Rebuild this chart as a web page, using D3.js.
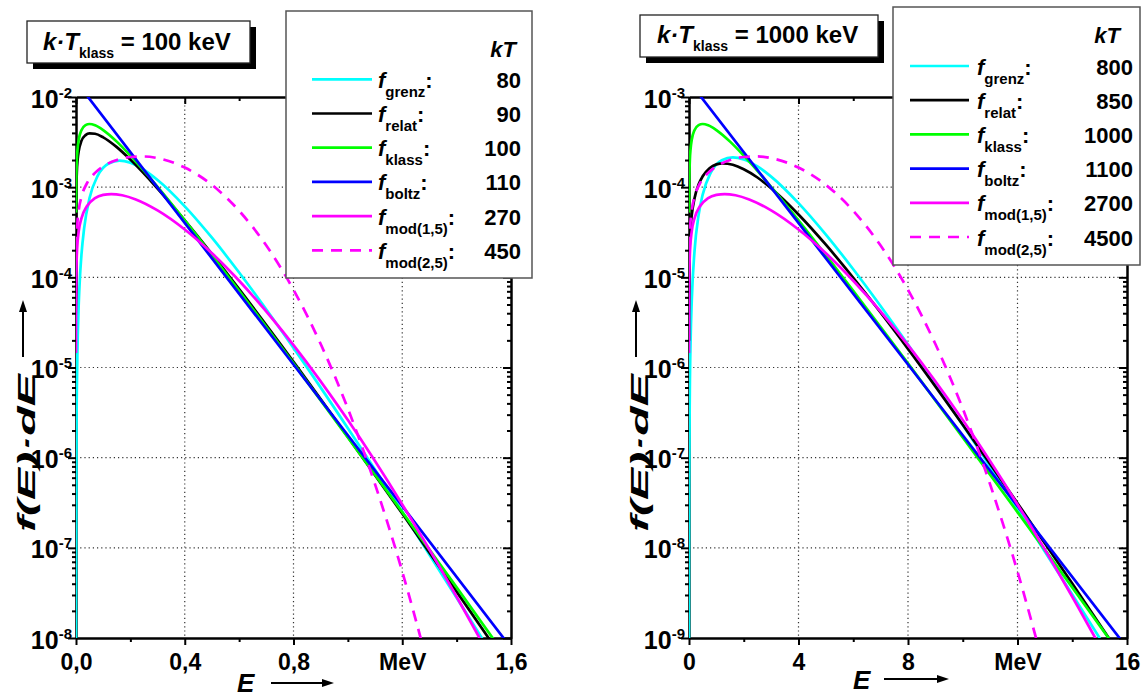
<!DOCTYPE html>
<html>
<head>
<meta charset="utf-8">
<script src="https://cdn.jsdelivr.net/npm/d3@7"></script>
<style>
body{margin:0;background:#fff}
svg{display:block}
text{font-family:Arial,"Liberation Sans",sans-serif;font-weight:bold;fill:#000;white-space:pre}
.grid{stroke:#333;stroke-width:1.2;stroke-dasharray:1.2,3}
.axis path,.axis line{stroke:#000;stroke-width:2}
</style>
</head>
<body>
<svg id="chart" width="1146" height="697"></svg>
<script>
// series names, kT values (keV) of the legends
var seriesKeys = ["grenz", "relat", "klass", "boltz", "mod(1,5)", "mod(2,5)"];
var leftKT = [80, 90, 100, 110, 270, 450];
var rightKT = [800, 850, 1000, 1100, 2700, 4500];
var leftTitle = "100 keV", rightTitle = "1000 keV";

// axis ticks
var leftXTicks = [0, 0.4, 0.8, 1.2, 1.6],
	leftXLabels = ["0,0", "0,4", "0,8", "MeV", "1,6"],
	leftXMinor = [0.2, 0.6, 1.0, 1.4],
	leftDecades = [-8, -7, -6, -5, -4, -3, -2];
var rightXTicks = [0, 4, 8, 12, 16],
	rightXLabels = ["0", "4", "8", "MeV", "16"],
	rightXMinor = [2, 6, 10, 14],
	rightDecades = [-9, -8, -7, -6, -5, -4, -3];

// [E (MeV), f(E)dE]
var leftGrenz = [[0.00012,8.2e-9],[0.0002,2.28e-8],[0.002,2.22e-6],[0.004,8.66e-6],[0.007,2.55e-5],[0.01,5.02e-5],[0.015,1.06e-4],[0.02,1.77e-4],[0.03,3.52e-4],[0.05,7.61e-4],[0.08,1.34e-3],[0.12,1.83e-3],[0.16,1.97e-3],[0.2,1.87e-3],[0.3,1.20e-3],[0.4,6.13e-4],[0.5,2.75e-4],[0.6,1.13e-4],[0.8,1.65e-5],[1.0,2.12e-6],[1.2,2.51e-7],[1.4,2.80e-8],[1.52,7.4e-9]];
var leftRelat = [[0.0002,3.87e-4],[0.001,8.59e-4],[0.003,1.46e-3],[0.006,2.02e-3],[0.01,2.51e-3],[0.02,3.26e-3],[0.035,3.78e-3],[0.05,3.95e-3],[0.07,3.91e-3],[0.1,3.57e-3],[0.15,2.78e-3],[0.2,2.02e-3],[0.3,9.66e-4],[0.4,4.28e-4],[0.5,1.81e-4],[0.6,7.40e-5],[0.8,1.16e-5],[1.0,1.70e-6],[1.2,2.40e-7],[1.4,3.27e-8],[1.55,7.2e-9]];
var leftKlass = [[0.0002,5.22e-4],[0.001,1.16e-3],[0.003,1.97e-3],[0.006,2.70e-3],[0.01,3.35e-3],[0.02,4.28e-3],[0.035,4.88e-3],[0.05,5.02e-3],[0.07,4.86e-3],[0.1,4.30e-3],[0.15,3.20e-3],[0.2,2.24e-3],[0.3,1.01e-3],[0.4,4.29e-4],[0.5,1.76e-4],[0.6,7.10e-5],[0.8,1.11e-5],[1.0,1.68e-6],[1.2,2.49e-7],[1.4,3.64e-8],[1.54,9.3e-9]];
var leftBoltz = [[0,1.49e-2],[0.8,1.08e-5],[1.6,7.8e-9]];
var leftMod15 = [[0.00002,1.45e-5],[0.0002,4.60e-5],[0.001,1.03e-4],[0.004,2.05e-4],[0.01,3.23e-4],[0.02,4.51e-4],[0.04,6.14e-4],[0.07,7.54e-4],[0.1,8.20e-4],[0.13,8.39e-4],[0.17,8.13e-4],[0.22,7.31e-4],[0.3,5.52e-4],[0.4,3.39e-4],[0.5,1.85e-4],[0.6,9.17e-5],[0.8,1.77e-5],[1.0,2.61e-6],[1.2,3.03e-7],[1.4,2.87e-8],[1.5,8.2e-9]];
var leftMod25 = [[0.0015,2.13e-4],[0.004,3.48e-4],[0.01,5.50e-4],[0.02,7.78e-4],[0.04,1.10e-3],[0.07,1.44e-3],[0.1,1.70e-3],[0.15,2.00e-3],[0.2,2.16e-3],[0.25,2.19e-3],[0.3,2.10e-3],[0.4,1.65e-3],[0.5,1.06e-3],[0.6,5.47e-4],[0.7,2.25e-4],[0.8,7.28e-5],[0.9,1.82e-5],[1.0,3.50e-6],[1.1,5.06e-7],[1.2,5.45e-8],[1.3,4.3e-9]];

// [E (MeV), f(E)dE]
var rightGrenz = [[0.001,6.2e-10],[0.003,5.54e-9],[0.01,6.10e-8],[0.03,5.36e-7],[0.06,2.06e-6],[0.1,5.45e-6],[0.2,1.93e-5],[0.35,4.89e-5],[0.5,8.27e-5],[0.8,1.46e-4],[1.2,1.99e-4],[1.6,2.14e-4],[2.0,2.03e-4],[2.5,1.70e-4],[3.0,1.31e-4],[4.0,6.66e-5],[5.0,2.98e-5],[6.0,1.23e-5],[8.0,1.80e-6],[10,2.30e-7],[12,2.72e-8],[14,3.04e-9],[15.2,8.0e-10]];
var rightRelat = [[0.0002,1.98e-6],[0.002,6.25e-6],[0.01,1.41e-5],[0.03,2.50e-5],[0.06,3.66e-5],[0.1,4.91e-5],[0.2,7.50e-5],[0.35,1.07e-4],[0.5,1.32e-4],[0.75,1.62e-4],[1.0,1.79e-4],[1.25,1.84e-4],[1.6,1.77e-4],[2.0,1.58e-4],[2.5,1.28e-4],[3.0,9.71e-5],[4.0,4.98e-5],[5.0,2.30e-5],[6.0,9.90e-6],[8.0,1.61e-6],[10,2.32e-7],[12,3.13e-8],[14,4.02e-9],[15.5,8.4e-10]];
var rightKlass = [[0.002,5.22e-5],[0.01,1.16e-4],[0.03,1.97e-4],[0.06,2.70e-4],[0.1,3.35e-4],[0.2,4.28e-4],[0.35,4.88e-4],[0.5,5.02e-4],[0.7,4.86e-4],[1.0,4.30e-4],[1.5,3.20e-4],[2.0,2.24e-4],[3.0,1.01e-4],[4.0,4.29e-5],[5.0,1.76e-5],[6.0,7.10e-6],[8.0,1.11e-6],[10,1.68e-7],[12,2.49e-8],[14,3.64e-9],[15.4,9.3e-10]];
var rightBoltz = [[0,1.49e-3],[8,1.08e-6],[16,7.8e-10]];
var rightMod15 = [[0.0002,1.45e-6],[0.002,4.60e-6],[0.01,1.03e-5],[0.04,2.05e-5],[0.1,3.23e-5],[0.2,4.51e-5],[0.4,6.14e-5],[0.7,7.54e-5],[1.0,8.20e-5],[1.3,8.39e-5],[1.7,8.13e-5],[2.2,7.31e-5],[3.0,5.52e-5],[4.0,3.39e-5],[5.0,1.85e-5],[6.0,9.17e-6],[8.0,1.77e-6],[10,2.61e-7],[12,3.03e-8],[14,2.87e-9],[15,8.2e-10]];
var rightMod25 = [[0.015,2.13e-5],[0.04,3.48e-5],[0.1,5.50e-5],[0.2,7.78e-5],[0.4,1.10e-4],[0.7,1.44e-4],[1.0,1.70e-4],[1.5,2.00e-4],[2.0,2.16e-4],[2.5,2.19e-4],[3.0,2.10e-4],[4.0,1.65e-4],[5.0,1.06e-4],[6.0,5.47e-5],[7.0,2.25e-5],[8.0,7.28e-6],[9.0,1.82e-6],[10,3.50e-7],[11,5.06e-8],[12,5.45e-9],[13,4.3e-10]];

var seriesColors = ["#00ffff", "#000000", "#00ff00", "#0000ff", "#ff00ff", "#ff00ff"],
	seriesDash = [null, null, null, null, null, "11,8"];

var svg = d3.select("#chart");

var panels = [
	{id: "L", x0: 76, x1: 511, y0: 97, y1: 638,
	 ticks: leftXTicks, labels: leftXLabels, minor: leftXMinor, decades: leftDecades,
	 series: [leftGrenz, leftRelat, leftKlass, leftBoltz, leftMod15, leftMod25], kT: leftKT,
	 title: leftTitle, tbox: [27, 21, 223, 42], ttext: [43, 50],
	 legend: {x: 286, y: 11, w: 246, h: 267, row0: 79.3, lx0: 312, lx1: 372, fx: 378, numx: 521, kTx: 516, kTy: 57},
	 ylab: [35, 532], yarrow: 23, xlab: [237, 692], xarrow: [271, 334, 683]},
	{id: "R", x0: 689, x1: 1127, y0: 97, y1: 638,
	 ticks: rightXTicks, labels: rightXLabels, minor: rightXMinor, decades: rightDecades,
	 series: [rightGrenz, rightRelat, rightKlass, rightBoltz, rightMod15, rightMod25], kT: rightKT,
	 title: rightTitle, tbox: [640, 15, 238, 42], ttext: [657, 43],
	 legend: {x: 893, y: 7, w: 247, h: 258, row0: 66, lx0: 910, lx1: 969, fx: 977, numx: 1133, kTx: 1120, kTy: 43},
	 ylab: [648, 532], yarrow: 636, xlab: [853, 689], xarrow: [884, 949, 679]}
];

panels.forEach(drawPanel);

function drawPanel(p){
	var x = d3.scaleLinear()
			.domain([p.ticks[0], p.ticks[p.ticks.length - 1]])
			.range([p.x0, p.x1]),
		y = d3.scaleLog()
			.domain([Math.pow(10, p.decades[0]), Math.pow(10, p.decades[p.decades.length - 1])])
			.range([p.y1, p.y0]);

	var majorY = p.decades.map(function(d){ return Math.pow(10, d); });
	var minorY = [];
	p.decades.slice(0, -1).forEach(function(d){
		for (var k = 2; k < 10; k++) minorY.push(k * Math.pow(10, d));
	});

	var g = svg.append("g");

	// dotted grid
	p.ticks.slice(1, -1).forEach(function(v){
		g.append("line").attr("class", "grid")
			.attr("x1", x(v)).attr("x2", x(v)).attr("y1", p.y0).attr("y2", p.y1);
	});
	majorY.slice(1, -1).forEach(function(v){
		g.append("line").attr("class", "grid")
			.attr("x1", p.x0).attr("x2", p.x1).attr("y1", y(v)).attr("y2", y(v));
	});

	// axes: bottom / top (ticks downward), left / right (ticks leftward)
	[p.y1, p.y0].forEach(function(yy, j){
		g.append("g").attr("class", "axis").attr("transform", "translate(0," + yy + ")")
			.call(d3.axisBottom(x).tickValues(p.minor).tickSize(4).tickSizeOuter(0).tickFormat(""));
		var ax = g.append("g").attr("class", "axis").attr("transform", "translate(0," + yy + ")")
			.call(d3.axisBottom(x).tickValues(p.ticks).tickSize(7).tickSizeOuter(0)
				.tickFormat(function(d, i){ return j == 0 ? p.labels[i] : ""; }));
		ax.selectAll(".tick text").attr("y", 32).attr("dy", 0)
			.style("font-size", "23px").attr("fill", "#000");
	});
	[p.x0, p.x1].forEach(function(xx, j){
		g.append("g").attr("class", "axis").attr("transform", "translate(" + xx + ",0)")
			.call(d3.axisLeft(y).tickValues(minorY).tickSize(4).tickSizeOuter(0).tickFormat(""));
		var ax = g.append("g").attr("class", "axis").attr("transform", "translate(" + xx + ",0)")
			.call(d3.axisLeft(y).tickValues(majorY).tickSize(8).tickSizeOuter(0).tickFormat(""));
		if (j == 0){
			ax.selectAll(".tick").each(function(d){
				var t = d3.select(this).append("text")
					.attr("x", -4).attr("y", 10).attr("text-anchor", "end")
					.style("font-size", "25px");
				t.append("tspan").text("10");
				t.append("tspan").attr("dy", -10).style("font-size", "15px")
					.text(String(Math.round(Math.log10(d))));
			});
		}
	});

	// curves
	svg.append("clipPath").attr("id", "clip" + p.id).append("rect")
		.attr("x", p.x0).attr("y", p.y0).attr("width", p.x1 - p.x0).attr("height", p.y1 - p.y0);
	var line = d3.line()
		.x(function(d){ return x(d[0]); })
		.y(function(d){ return y(d[1]); })
		.curve(d3.curveMonotoneX);
	var cg = svg.append("g").attr("clip-path", "url(#clip" + p.id + ")");
	p.series.forEach(function(s, i){
		cg.append("path").attr("d", line(s))
			.attr("fill", "none")
			.attr("stroke", seriesColors[i])
			.attr("stroke-width", 2.7)
			.attr("stroke-linejoin", "round")
			.attr("stroke-dasharray", seriesDash[i]);
	});

	// axis titles: the y title is stretched along its run like the original
	var yl = svg.append("text")
		.style("font-size", "23px").style("font-style", "italic")
		.text("f(E)·dE");
	var natural = yl.node().getComputedTextLength() || 74;
	yl.attr("transform", "translate(" + p.ylab[0] + "," + p.ylab[1] + ") rotate(-90) scale(" + (158 / natural) + ",1)");
	arrow(svg, p.yarrow, 357, p.yarrow, 300);
	svg.append("text").attr("x", p.xlab[0]).attr("y", p.xlab[1])
		.style("font-size", "26px").style("font-style", "italic").text("E");
	arrow(svg, p.xarrow[0], p.xarrow[2], p.xarrow[1], p.xarrow[2]);

	// legend
	var L = p.legend;
	var lg = svg.append("g");
	lg.append("rect").attr("x", L.x).attr("y", L.y).attr("width", L.w).attr("height", L.h)
		.attr("fill", "#fff").attr("stroke", "#555").attr("stroke-width", 1.5);
	lg.append("text").attr("x", L.kTx).attr("y", L.kTy).attr("text-anchor", "end")
		.style("font-size", "22px").style("font-style", "italic").text("kT");
	seriesKeys.forEach(function(k, i){
		var yy = L.row0 + i * 34.2;
		lg.append("line").attr("x1", L.lx0).attr("x2", L.lx1).attr("y1", yy).attr("y2", yy)
			.attr("stroke", seriesColors[i]).attr("stroke-width", 2.7)
			.attr("stroke-dasharray", seriesDash[i]);
		var t = lg.append("text").attr("x", L.fx).attr("y", yy + 8.5).style("font-size", "22px");
		t.append("tspan").style("font-style", "italic").text("f");
		t.append("tspan").attr("dy", 9).style("font-size", "15px").text(k);
		t.append("tspan").attr("dy", -9).text(":");
		lg.append("text").attr("x", L.numx).attr("y", yy + 8.5).attr("text-anchor", "end")
			.style("font-size", "22px").text(p.kT[i]);
	});

	// title box with shadow
	var b = p.tbox;
	svg.append("rect").attr("x", b[0] + 6).attr("y", b[1] + 6).attr("width", b[2]).attr("height", b[3])
		.attr("fill", "#000");
	svg.append("rect").attr("x", b[0]).attr("y", b[1]).attr("width", b[2]).attr("height", b[3])
		.attr("fill", "#fff").attr("stroke", "#222").attr("stroke-width", 1.3);
	var tt = svg.append("text").attr("x", p.ttext[0]).attr("y", p.ttext[1]).style("font-size", "24px");
	tt.append("tspan").style("font-style", "italic").text("k·T");
	tt.append("tspan").attr("dy", 8).style("font-size", "14px").text("klass");
	tt.append("tspan").attr("dy", -8).text(" = " + p.title);
}

function arrow(sel, xa, ya, xb, yb){
	var ang = Math.atan2(yb - ya, xb - xa), len = 12, wid = 4;
	var bx = xb - len * Math.cos(ang), by = yb - len * Math.sin(ang);
	sel.append("line").attr("x1", xa).attr("y1", ya).attr("x2", bx).attr("y2", by)
		.attr("stroke", "#000").attr("stroke-width", 2);
	var px = -Math.sin(ang) * wid, py = Math.cos(ang) * wid;
	sel.append("path")
		.attr("d", "M" + xb + "," + yb + "L" + (bx + px) + "," + (by + py) + "L" + (bx - px) + "," + (by - py) + "Z")
		.attr("fill", "#000");
}
</script>
</body>
</html>
